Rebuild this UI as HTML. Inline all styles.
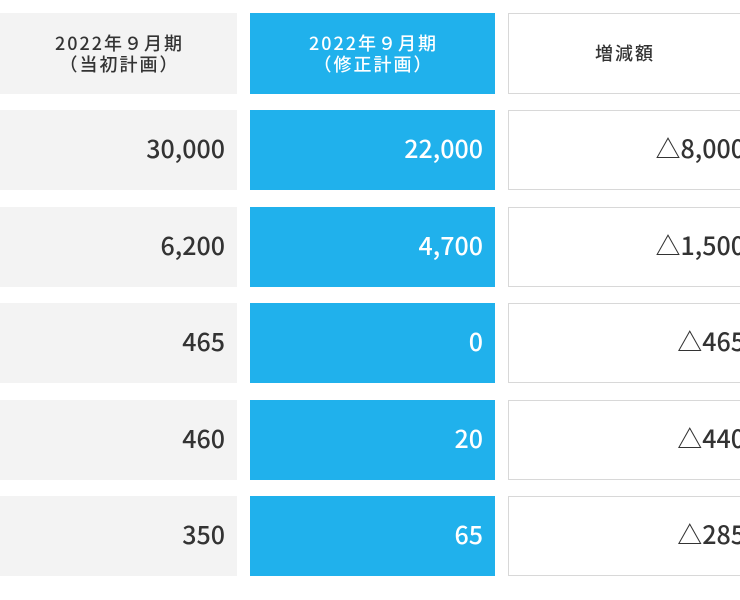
<!DOCTYPE html>
<html><head><meta charset="utf-8"><style>
body{margin:0;width:740px;height:600px;background:#fff;overflow:hidden;position:relative;font-family:"Noto Sans CJK JP","Liberation Sans",sans-serif;}
.c{position:absolute;box-sizing:border-box;display:flex;align-items:center;}
.g{background:#f3f3f3;color:#333;left:0;width:237px;}
.b{background:#20b1ec;color:#fff;left:250px;width:245px;}
.w{background:#fff;border:1.5px solid #d8d8d8;color:#333;left:508px;width:250px;}
.h{justify-content:center;text-align:center;font-size:18px;line-height:21px;letter-spacing:2px;font-weight:500;padding-left:2px;}
.n{justify-content:flex-end;font-size:25px;padding-right:12px;font-weight:500;padding-bottom:5px;}
.w.n{padding-right:12px;}
</style></head><body>
<div class="c g h" style="top:13px;height:81px">2022年９月期<br>（当初計画）</div>
<div class="c b h" style="top:13px;height:81px">2022年９月期<br>（修正計画）</div>
<div class="c w h" style="top:13px;height:81px;width:250px;padding-right:18px">増減額</div>

<div class="c g n" style="top:110px;height:80px">30,000</div>
<div class="c b n" style="top:110px;height:80px">22,000</div>
<div class="c w n" style="top:110px;height:80px">△8,000</div>

<div class="c g n" style="top:207px;height:80px">6,200</div>
<div class="c b n" style="top:207px;height:80px">4,700</div>
<div class="c w n" style="top:207px;height:80px">△1,500</div>

<div class="c g n" style="top:303px;height:80px">465</div>
<div class="c b n" style="top:303px;height:80px">0</div>
<div class="c w n" style="top:303px;height:80px">△465</div>

<div class="c g n" style="top:400px;height:80px">460</div>
<div class="c b n" style="top:400px;height:80px">20</div>
<div class="c w n" style="top:400px;height:80px">△440</div>

<div class="c g n" style="top:496px;height:80px">350</div>
<div class="c b n" style="top:496px;height:80px">65</div>
<div class="c w n" style="top:496px;height:80px">△285</div>
</body></html>
